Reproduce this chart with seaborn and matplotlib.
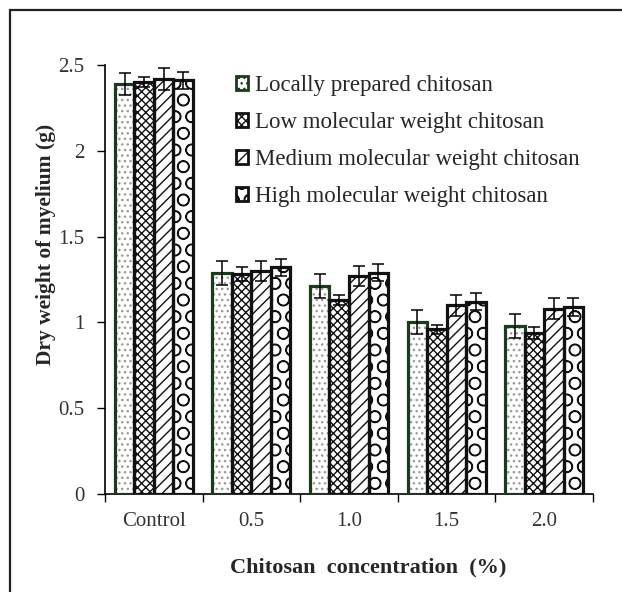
import matplotlib
matplotlib.use("Agg")
import matplotlib.pyplot as plt
from matplotlib.patches import Rectangle
from matplotlib.lines import Line2D
import seaborn as sns
import pandas as pd
import numpy as np

# Dry weight of mycelium (g) by chitosan type and concentration
categories = ["Control", "0.5", "1.0", "1.5", "2.0"]
series_names = [
    "Locally prepared chitosan",
    "Low molecular weight chitosan",
    "Medium molecular weight chitosan",
    "High molecular weight chitosan",
]
locally = [2.39, 1.29, 1.21, 1.00, 0.98]
low_mw = [2.40, 1.28, 1.13, 0.96, 0.94]
medium_mw = [2.42, 1.30, 1.27, 1.10, 1.08]
high_mw = [2.41, 1.32, 1.29, 1.12, 1.09]

locally_err = [0.065, 0.07, 0.07, 0.07, 0.07]
low_mw_err = [0.03, 0.04, 0.03, 0.025, 0.035]
medium_mw_err = [0.065, 0.06, 0.06, 0.06, 0.06]
high_mw_err = [0.05, 0.05, 0.05, 0.05, 0.05]

values = [locally, low_mw, medium_mw, high_mw]
errors = [locally_err, low_mw_err, medium_mw_err, high_mw_err]

df = pd.DataFrame({
    "concentration": categories * 4,
    "series": np.repeat(series_names, len(categories)),
    "weight": np.concatenate(values),
})

sns.set_theme(style="white")
plt.rcParams["font.family"] = ["Liberation Serif", "DejaVu Serif"]
plt.rcParams["hatch.linewidth"] = 1.0

fig = plt.figure(figsize=(6.22, 5.92), dpi=100)
ax = fig.add_axes([105 / 622, 1 - 494 / 592, (593 - 105) / 622, (494 - 65) / 592])

hatches = ["...", "xxxx", "///", "O"]
hatch_colors = ["#9a9a9a", "#111111", "#111111", "#111111"]
outline_colors = ["#1c3a1c", "#111111", "#111111", "#111111"]

sns.barplot(data=df, x="concentration", y="weight", hue="series",
            order=categories, hue_order=series_names, width=0.8,
            errorbar=None, palette=["white"] * 4, saturation=1,
            ax=ax, legend=False)

bar_groups = [list(c) for c in ax.containers]
for i, cont in enumerate(bar_groups):
    for bar in cont:
        bar.set_facecolor("white")
        bar.set_edgecolor(hatch_colors[i])
        bar.set_hatch(hatches[i])
        bar.set_linewidth(0)
        ax.add_patch(Rectangle((bar.get_x(), 0), bar.get_width(), bar.get_height(),
                               fill=False, edgecolor=outline_colors[i], lw=2.3,
                               zorder=3))
    xs = [b.get_x() + b.get_width() / 2 for b in cont]
    ax.errorbar(xs, values[i], yerr=errors[i], fmt="none", ecolor="black",
                elinewidth=1.1, capsize=4.5, capthick=1.1, zorder=4)

ax.set_ylim(0, 2.5)
ax.set_xlim(-0.5, 4.5)
ax.set_yticks([0, 0.5, 1, 1.5, 2, 2.5])
ax.set_yticklabels(["0", "0.5", "1", "1.5", "2", "2.5"])
ax.set_xticks(range(len(categories)))
ax.set_xticklabels(categories)
ax.set_xticks(np.arange(-0.5, 5, 1), minor=True)
ax.tick_params(axis="x", which="major", length=0, pad=13, labelsize=15)
ax.tick_params(axis="x", which="minor", length=6, width=1, direction="out",
               color="black", bottom=True)
ax.tick_params(axis="y", length=6, width=1, direction="out", left=True,
               labelsize=15, color="black", pad=9)
for lbl in ax.get_yticklabels() + ax.get_xticklabels():
    lbl.set_color("#333333")

for side in ["top", "right"]:
    ax.spines[side].set_visible(False)
for side in ["left", "bottom"]:
    ax.spines[side].set_color("black")
    ax.spines[side].set_linewidth(1.2)

ax.set_xlabel("Chitosan  concentration  (%)", fontsize=16, fontweight="bold")
ax.xaxis.set_label_coords((368 - 105) / 488, (494 - 557) / 429)
ax.set_ylabel("Dry weight of myelium (g)", fontsize=15.5, fontweight="bold")
ax.yaxis.set_label_coords((56 - 105) / 488, (494 - 244) / 429)

handles = [Rectangle((0, 0), 1, 1, facecolor="white", edgecolor=outline_colors[i],
                     hatch=hatches[i], lw=2) for i in range(4)]
leg = ax.legend(handles, series_names, loc="upper left",
                bbox_to_anchor=(0.268, 0.976), frameon=False, fontsize=16.5,
                handlelength=0.55, handleheight=0.55, handletextpad=0.3,
                labelspacing=0.7, borderpad=0, borderaxespad=0)

# figure border on the left and top
fig.add_artist(Line2D([10 / 622, 10 / 622], [0, 1 - 10 / 592], color="#222222",
                      lw=1.6, transform=fig.transFigure))
fig.add_artist(Line2D([10 / 622, 1], [1 - 10 / 592, 1 - 10 / 592], color="#222222",
                      lw=1.6, transform=fig.transFigure))

fig.savefig("out.png", dpi=100, facecolor="white")
